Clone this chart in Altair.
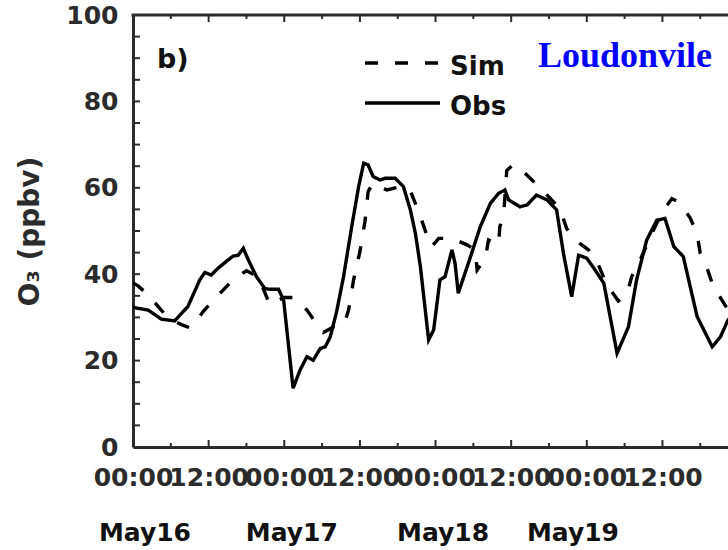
import altair as alt
import pandas as pd

# ---- data (hours after May16 00:00, ppbv) ----
obs_hours = [0.0, 0.8, 2.4, 3.2, 4.5, 6.6, 8.7, 10.6, 11.4, 12.4, 13.5, 15.1, 15.9, 16.7, 17.5,
             18.3, 19.6, 20.9, 21.7, 23.1, 23.9, 25.4, 26.5, 27.6, 28.6, 29.7, 30.5, 31.3, 32.3,
             33.4, 34.7, 35.8, 36.6, 37.3, 38.1, 39.2, 40.0, 41.6, 42.9, 44.0, 44.8, 45.6, 46.9,
             47.7, 48.7, 49.5, 50.6, 51.1, 51.6, 53.2, 55.1, 56.7, 58.0, 59.0, 59.6, 61.4, 62.5,
             64.0, 65.7, 67.2, 68.3, 69.6, 70.7, 72.0, 73.3, 74.7, 76.8, 78.6, 79.9, 81.5, 83.1,
             84.4, 85.8, 87.3, 89.5, 91.9, 93.2, 94.4, 95.5]
obs_vals = [32.4, 32.1, 31.7, 30.9, 29.6, 29.2, 32.5, 38.7, 40.4, 39.8, 41.4, 43.3, 44.2, 44.4, 46.0,
            43.3, 39.4, 36.7, 36.5, 36.5, 34.0, 13.6, 17.8, 20.9, 20.1, 22.8, 23.2, 25.5, 31.3,
            39.4, 51.0, 60.3, 65.7, 65.3, 62.6, 61.8, 62.2, 62.2, 60.3, 54.9, 49.5, 41.7, 24.8,
            27.1, 38.7, 39.4, 45.6, 42.5, 35.6, 42.5, 51.0, 56.4, 58.7, 59.5, 57.2, 55.6, 56.0,
            58.3, 57.2, 54.9, 44.8, 34.8, 44.4, 43.7, 41.0, 37.9, 21.7, 27.8, 38.7, 47.9, 52.5,
            52.9, 46.4, 44.1, 30.2, 23.2, 25.5, 29.4, 31.0]

sim_hours = [0.0, 0.8, 2.4, 4.0, 5.6, 7.9, 9.0, 9.6, 11.1, 12.7, 14.3, 15.9, 18.0, 19.9, 21.7,
             22.7, 23.9, 25.4, 27.6, 28.9, 30.2, 31.8, 33.5, 34.2, 35.0, 36.0, 36.8, 37.3, 38.0,
             40.3, 42.6, 44.0, 45.0, 45.8, 46.6, 47.4, 48.5, 50.6, 53.0, 54.3, 54.6, 55.9, 56.4,
             58.0, 58.2, 58.8, 59.3, 60.3, 61.4, 63.3, 64.9, 66.7, 67.8, 68.8, 69.9, 71.0, 72.3,
             73.7, 75.2, 77.0, 78.4, 79.1, 79.7, 81.0, 82.5, 84.0, 85.5, 86.8, 88.4, 89.5, 90.0,
             91.1, 91.9, 93.0, 94.5, 96.0]
sim_vals = [38.0, 37.3, 35.2, 32.5, 29.8, 28.2, 27.6, 28.2, 31.3, 34.0, 36.3, 38.8, 40.8, 39.4, 32.9,
            33.6, 34.6, 34.6, 31.7, 29.0, 26.5, 27.8, 28.3, 31.7, 38.7, 45.2, 52.2, 59.1, 61.0,
            59.5, 60.3, 59.3, 55.6, 52.5, 49.1, 46.4, 48.3, 48.3, 46.8, 45.6, 41.0, 43.7, 47.9,
            46.8, 51.0, 53.7, 64.0, 65.3, 64.5, 61.8, 59.5, 56.8, 54.9, 50.6, 48.3, 47.0, 45.6,
            42.6, 37.5, 33.8, 35.4, 39.4, 41.0, 45.0, 50.0, 54.5, 57.5, 56.5, 53.0, 49.3, 44.8,
            41.3, 37.9, 35.0, 31.5, 28.0]

series_names = ["Sim", "Obs"]
y_label_values = [0, 20, 40, 60, 80, 100]
y_minor_ticks = [5, 10, 15, 20, 25, 30, 35, 40, 45, 50, 55, 60, 65, 70, 75, 80, 85, 90, 95]
x_label_hours = [0, 12, 24, 36, 48, 60, 72, 84]
x_major_ticks = [12, 24, 36, 48, 60, 72, 84]
x_minor_ticks = [6, 18, 30, 42, 54, 66, 78, 90]
day_labels = ["May16", "May17", "May18", "May19"]
day_label_hours = [1.9, 25.2, 49.2, 69.8]
station = "Loudonvile"
panel_tag = "b)"

# ---- layout constants ----
W, H = 595, 432
X_MAX = 94.4
FONT = "DejaVu Sans"
AX = "#2b2b2b"
DASH = [13, 17]
LW = 3.4

df = pd.concat([
    pd.DataFrame({"hour": sim_hours, "value": sim_vals, "series": "Sim"}),
    pd.DataFrame({"hour": obs_hours, "value": obs_vals, "series": "Obs"}),
])

xs = alt.Scale(domain=[0, X_MAX], nice=False, zero=False)
ys = alt.Scale(domain=[0, 100], nice=False)

X_AXIS = alt.Axis(
    orient="bottom", values=x_label_hours, title=None, grid=False, ticks=False,
    domain=True, domainColor=AX, domainWidth=3,
    labelExpr="datum.value % 24 == 0 ? '00:00' : '12:00'",
    labelFont=FONT, labelFontSize=25, labelFontWeight="bold", labelColor=AX,
    labelPadding=18, labelOverlap=False, labelFlush=False, labelBound=False)
Y_AXIS = alt.Axis(
    orient="left", values=y_label_values, grid=False, ticks=False,
    domain=True, domainColor=AX, domainWidth=3,
    labelFont=FONT, labelFontSize=25, labelFontWeight="bold", labelColor=AX,
    labelPadding=15, labelOverlap=False,
    title="O₃ (ppbv)", titleFont=FONT, titleFontSize=28,
    titleFontWeight="bold", titleColor=AX, titlePadding=21)


def X(field):
    return alt.X(field, scale=xs, axis=X_AXIS)


def Y(field):
    return alt.Y(field, scale=ys, axis=Y_AXIS)


lines = alt.Chart(df).mark_line(color="black", strokeWidth=LW, clip=True).encode(
    x=X("hour:Q"), y=Y("value:Q"),
    strokeDash=alt.StrokeDash("series:N", scale=alt.Scale(domain=series_names, range=[DASH, [1, 0]]),
                              legend=None),
)

# top frame line and inward ticks
top_line = alt.Chart(pd.DataFrame({"s": ["top"]})).mark_rule(color=AX, strokeWidth=3).encode(
    x=alt.value(-1.5), x2=alt.value(W), y=alt.value(0))
top_major = alt.Chart(pd.DataFrame({"hour": x_major_ticks})).mark_rule(color=AX, strokeWidth=2).encode(
    x=X("hour:Q"), y=alt.value(0), y2=alt.value(7))
top_minor = alt.Chart(pd.DataFrame({"hour": x_minor_ticks})).mark_rule(color=AX, strokeWidth=2).encode(
    x=X("hour:Q"), y=alt.value(0), y2=alt.value(4))
bot_major = alt.Chart(pd.DataFrame({"hour": x_major_ticks})).mark_rule(color=AX, strokeWidth=2).encode(
    x=X("hour:Q"), y=alt.value(H), y2=alt.value(H - 7))
bot_minor = alt.Chart(pd.DataFrame({"hour": x_minor_ticks})).mark_rule(color=AX, strokeWidth=2).encode(
    x=X("hour:Q"), y=alt.value(H), y2=alt.value(H - 4))
left_ticks = alt.Chart(pd.DataFrame({"value": y_minor_ticks})).mark_rule(color=AX, strokeWidth=2).encode(
    y=Y("value:Q"), x=alt.value(0), x2=alt.value(7))

days = alt.Chart(pd.DataFrame({"hour": day_label_hours, "label": day_labels})).mark_text(
    font=FONT, fontSize=25, fontWeight="bold", color="#111", baseline="middle", align="center"
).encode(x=X("hour:Q"), y=alt.value(518), text="label:N")

leg_sim_line = alt.Chart(pd.DataFrame({"s": ["Sim"]})).mark_rule(
    color="black", strokeWidth=LW, strokeDash=DASH).encode(
    x=alt.value(232), x2=alt.value(307), y=alt.value(48))
leg_obs_line = alt.Chart(pd.DataFrame({"s": ["Obs"]})).mark_rule(
    color="black", strokeWidth=LW).encode(
    x=alt.value(232), x2=alt.value(307), y=alt.value(88))
leg_sim_text = alt.Chart(pd.DataFrame({"s": ["Sim"]})).mark_text(
    font=FONT, fontSize=26, fontWeight="bold", color="#111", align="left", baseline="alphabetic"
).encode(x=alt.value(317), y=alt.value(60), text="s:N")
leg_obs_text = alt.Chart(pd.DataFrame({"s": ["Obs"]})).mark_text(
    font=FONT, fontSize=26, fontWeight="bold", color="#111", align="left", baseline="alphabetic"
).encode(x=alt.value(317), y=alt.value(100), text="s:N")

title_txt = alt.Chart(pd.DataFrame({"s": [station]})).mark_text(
    font="Liberation Serif", fontSize=36, fontWeight="bold", color="#0000ff",
    align="center", baseline="alphabetic").encode(x=alt.value(492), y=alt.value(52), text="s:N")
tag_txt = alt.Chart(pd.DataFrame({"s": [panel_tag]})).mark_text(
    font=FONT, fontSize=27, fontWeight="bold", color="#111",
    align="left", baseline="alphabetic").encode(x=alt.value(24), y=alt.value(53), text="s:N")

chart = alt.layer(
    lines, top_line, top_major, top_minor, bot_major, bot_minor, left_ticks, days,
    leg_sim_line, leg_obs_line, leg_sim_text, leg_obs_text, title_txt, tag_txt
).properties(
    width=W, height=H,
    autosize=alt.AutoSizeParams(type="none"),
    padding={"left": 133, "top": 15, "right": 0, "bottom": 103},
).configure_view(stroke=None).configure(background="white")

chart.save("out.html", embed_options={"renderer": "svg", "actions": False})
